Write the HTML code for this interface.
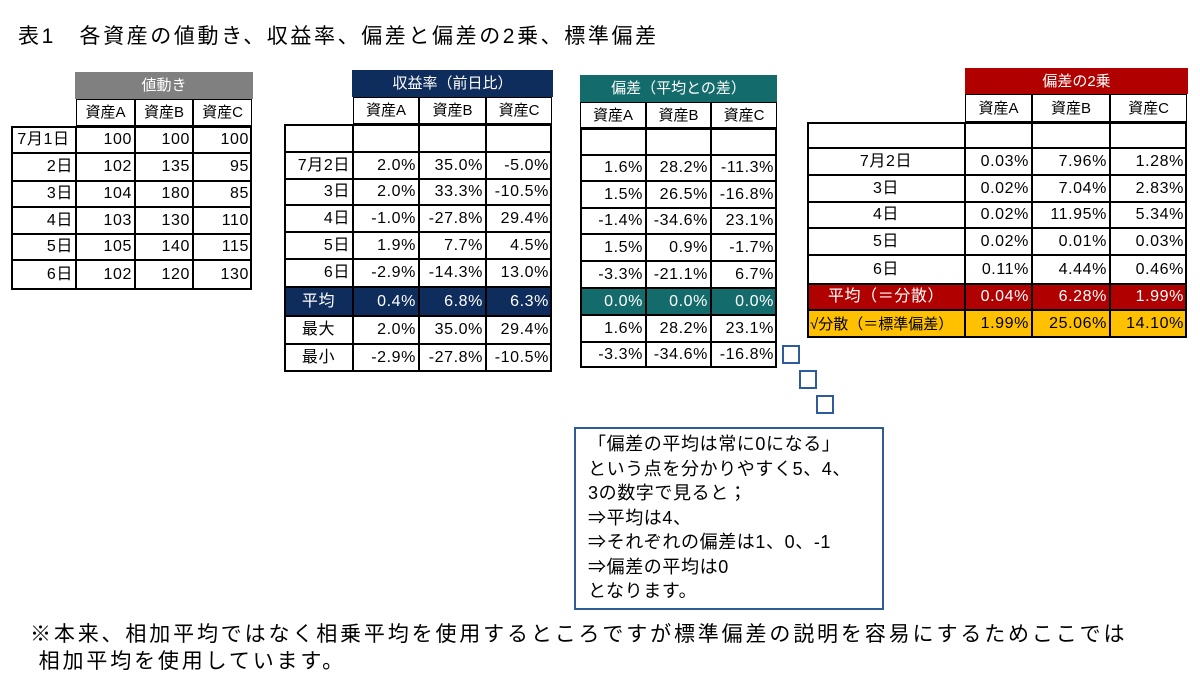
<!DOCTYPE html>
<html><head><meta charset="utf-8">
<style>
body{margin:0;width:1200px;height:696px;background:#fff;position:relative;overflow:hidden;font-family:"Liberation Sans","Noto Sans CJK JP",sans-serif;color:#000}
.c{position:absolute;box-sizing:border-box;font-size:16px;letter-spacing:0.6px;line-height:1;display:flex;align-items:center;white-space:nowrap;padding:0 2px}
.t{position:absolute;white-space:nowrap}
</style></head><body>
<div class="t" style="left:18px;top:20px;font-size:21px;letter-spacing:2.6px">表1　各資産の値動き、収益率、偏差と偏差の2乗、標準偏差</div>

<div id="tables"></div>

<div style="position:absolute;left:782px;top:345px;width:14px;height:15px;border:2px solid #2e5c9a"></div>
<div style="position:absolute;left:799px;top:370px;width:14px;height:15px;border:2px solid #2e5c9a"></div>
<div style="position:absolute;left:816px;top:395px;width:14px;height:15px;border:2px solid #2e5c9a"></div>

<div style="position:absolute;left:574px;top:427px;width:310px;height:183px;box-sizing:border-box;border:2px solid #2e5c9a;padding:3px 0 0 12px;font-size:18px;letter-spacing:0.6px;line-height:24.5px">「偏差の平均は常に0になる」<br>という点を分かりやすく5、4、<br>3の数字で見ると；<br>⇒平均は4、<br>⇒それぞれの偏差は1、0、-1<br>⇒偏差の平均は0<br>となります。</div>

<div class="t" style="left:30px;top:621px;font-size:21px;letter-spacing:2.85px;line-height:27px">※本来、相加平均ではなく相乗平均を使用するところですが標準偏差の説明を容易にするためここでは<br>&nbsp;相加平均を使用しています。</div>

<script>
const assets=['資産A','資産B','資産C'];
const priceLabels=['7月1日','2日','3日','4日','5日','6日'];
const priceA=['100','102','104','103','105','102'];
const priceB=['100','135','180','130','140','120'];
const priceC=['100','95','85','110','115','130'];
const retLabels=['','7月2日','3日','4日','5日','6日','平均','最大','最小'];
const retA=['','2.0%','2.0%','-1.0%','1.9%','-2.9%','0.4%','2.0%','-2.9%'];
const retB=['','35.0%','33.3%','-27.8%','7.7%','-14.3%','6.8%','35.0%','-27.8%'];
const retC=['','-5.0%','-10.5%','29.4%','4.5%','13.0%','6.3%','29.4%','-10.5%'];
const devA=['','1.6%','1.5%','-1.4%','1.5%','-3.3%','0.0%','1.6%','-3.3%'];
const devB=['','28.2%','26.5%','-34.6%','0.9%','-21.1%','0.0%','28.2%','-34.6%'];
const devC=['','-11.3%','-16.8%','23.1%','-1.7%','6.7%','0.0%','23.1%','-16.8%'];
const sqLabels=['','7月2日','3日','4日','5日','6日','平均（＝分散）','√分散（＝標準偏差）'];
const sqA=['','0.03%','0.02%','0.02%','0.02%','0.11%','0.04%','1.99%'];
const sqB=['','7.96%','7.04%','11.95%','0.01%','4.44%','6.28%','25.06%'];
const sqC=['','1.28%','2.83%','5.34%','0.03%','0.46%','1.99%','14.10%'];

const root=document.getElementById('tables');
function cell(x,y,w,h,txt,o){
  const d=document.createElement('div');d.className='c';
  d.style.left=x+'px';d.style.top=y+'px';d.style.width=w+'px';d.style.height=h+'px';
  d.style.justifyContent=o.al||'flex-end';
  if(o.bg)d.style.background=o.bg;if(o.fg)d.style.color=o.fg;
  d.style.border=o.bd||'none';
  if(o.fs){d.style.fontSize=o.fs+'px';d.style.letterSpacing='0px';}
  d.textContent=txt;root.appendChild(d);return d;
}
function header(x0,x1,y0,y1,txt,bg,name){
  const d=cell(x0,y0,x1-x0,y1-y0,txt,{bg:bg,fg:'#fff',al:'center',fs:15});
  
  
}
function table(cols,rows,labels,vals,opt){
  for(let i=0;i<3;i++){
    const d=cell(cols[i+1],opt.hy,cols[i+2]-cols[i+1],rows[0]-opt.hy,assets[i],{al:'center',fs:15,bd:'1px solid #000',bg:'#fff'});
    
    
  }
  for(let r=0;r<labels.length;r++){
    const y=rows[r],h=rows[r+1]-rows[r];
    const st=(opt.style&&opt.style[r])||{};
    const l=cell(cols[0],y,cols[1]-cols[0],h,labels[r],{al:st.al||opt.lal(r),bg:st.bg||'#fff',fg:st.fg,bd:'1px solid #000',fs:st.fs});
    
    
    for(let i=0;i<3;i++){
      const d=cell(cols[i+1],y,cols[i+2]-cols[i+1],h,vals[i][r],{bg:st.bg||'#fff',fg:st.fg,bd:'1px solid #000'});
      
      
    }
  }
  const f=document.createElement('div');
  f.style.cssText='position:absolute;box-sizing:border-box;border:2px solid #000;pointer-events:none';
  f.style.left=cols[0]+'px';f.style.top=rows[0]+'px';f.style.width=(cols[cols.length-1]-cols[0])+'px';f.style.height=(rows[rows.length-1]-rows[0])+'px';
  
  
  root.appendChild(f);
}
header(75,253,72,99,'値動き','#808080','price-header');
table([11,76,135,193,252],[126,153,181,207,234,260,290],priceLabels,[priceA,priceB,priceC],
 {hy:99,name:'price',lal:r=>r==0?'center':'flex-end'});
header(352,553,70,97,'収益率（前日比）','#0e2c5c','return-header');
const navy={bg:'#0e2c5c',fg:'#fff',al:'center'};
table([284,353,419,486,552],[124,152,179,205,232,259,287,316,344,372],retLabels,[retA,retB,retC],
 {hy:97,name:'return',lal:r=>r>=6?'center':'flex-end',style:{6:navy}});
header(580,777,75,102,'偏差（平均との差）','#146b6b','deviation-header');
table([580,580,646,711,777],[128,155,181,208,234,261,288,315,342,368],retLabels.map(()=>''),[devA,devB,devC],
 {hy:102,name:'deviation',lal:r=>'center',style:{6:{bg:'#146b6b',fg:'#fff'}}});
header(965,1188,68,94,'偏差の2乗','#b00000','squared-header');
table([807,965,1032,1110,1187],[122,148,175,202,228,255,284,310,338],sqLabels,[sqA,sqB,sqC],
 {hy:94,name:'squared',lal:r=>r==7?'flex-start':'center',style:{6:{bg:'#b00000',fg:'#fff'},7:{bg:'#ffc000',al:'flex-start',fs:15}}});
</script>
</body></html>
